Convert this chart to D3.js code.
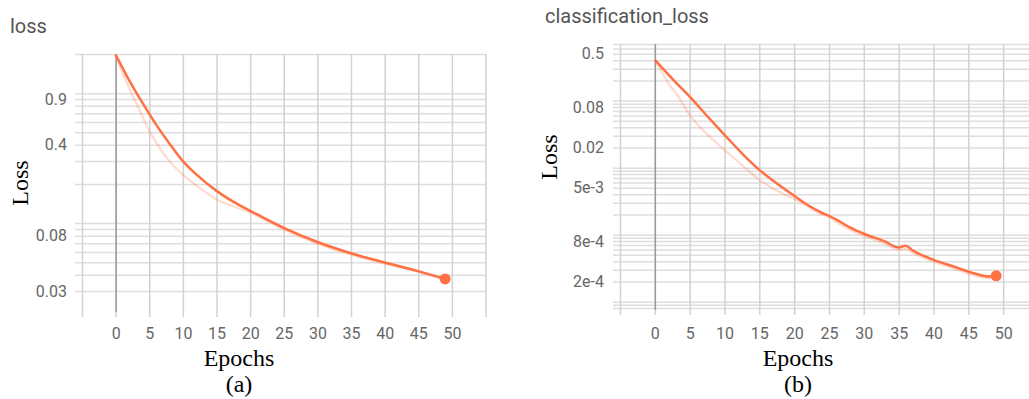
<!DOCTYPE html>
<html><head><meta charset="utf-8">
<script src="https://cdn.jsdelivr.net/npm/d3@7"></script>
<style>
html,body{margin:0;padding:0;background:#fff;}
svg{display:block;}
</style></head>
<body>
<svg id="chart" width="1029" height="399"></svg>
<script>
// ---------- data ----------
const epochTicks = [0,5,10,15,20,25,30,35,40,45,50];
const epochGrid = [-5,0,5,10,15,20,25,30,35,40,45,50,55];

const lossSmoothEpochs = [0,2,4,6,8,10,12,15,18,21,25,30,35,40,45,49];
const lossSmooth = [1.98,1.26,0.84,0.575,0.41,0.30,0.237,0.177,0.141,0.117,0.092,0.0715,0.0586,0.0498,0.0427,0.0372];
const lossRawEpochs = [0,1,2,3,4,5,6,7,8,10,12,15,18,20,25,30,35,40,45,49];
const lossRaw = [1.98,1.45,1.1,0.85,0.66,0.51,0.42,0.35,0.30,0.236,0.195,0.152,0.132,0.12,0.089,0.0695,0.0572,0.0487,0.0419,0.0366];
const lossTickVals = [0.9,0.4,0.08,0.03];
const lossTickLabels = ["0.9","0.4","0.08","0.03"];

const clsSmoothEpochs = [0,3,5,8,10,13,15,17,20,22,24,25,26,28,30,33,35,36,37,40,43,46,48,49];
const clsSmooth = [0.406,0.1875,0.115,0.0518,0.0309,0.0145,0.00927,0.00636,0.0038,0.00274,0.00211,0.00191,0.00169,0.00128,0.00103,0.000794,0.000641,0.000681,0.000583,0.000421,0.000331,0.00026,0.000237,0.000243];
const clsRawEpochs = [0,1,2,3,5,7,10,12,15,17,20,22,24,25,26,28,30,33,35,36,37,40,43,46,48,49];
const clsRaw = [0.406,0.27,0.178,0.131,0.0614,0.0354,0.0184,0.0122,0.00658,0.00483,0.00342,0.0026,0.00198,0.00185,0.00155,0.00118,0.000959,0.000729,0.000593,0.000614,0.000535,0.000393,0.000309,0.000243,0.000223,0.000243];
const clsTickVals = [0.5,0.08,0.02,0.005,0.0008,0.0002];
const clsTickLabels = ["0.5","0.08","0.02","5e-3","8e-4","2e-4"];

// ---------- drawing ----------
const svg = d3.select("#chart");
const ORANGE = "#ff7043";

function panel(cfg){
  const g = svg.append("g");
  const x = d3.scaleLinear().domain([-5,55]).range([cfg.left, cfg.right]);
  const y = d3.scaleLog().domain(cfg.yDomain).range([cfg.bottom, cfg.top]);

  // title
  g.append("text").attr("x", cfg.titleX).attr("y", cfg.titleY)
    .attr("font-family","Roboto, 'Liberation Sans', sans-serif")
    .attr("font-size", 20).attr("fill","#555").text(cfg.title);

  // horizontal grid
  const yGrid = g.append("g").attr("transform",`translate(${cfg.left-7},0)`)
    .call(d3.axisLeft(y).tickValues(y.ticks()).tickSize(-(cfg.right - cfg.left + 7)).tickFormat(""));
  yGrid.select(".domain").remove();
  yGrid.selectAll(".tick line").attr("stroke","#dedede").attr("stroke-width",1.5)
    .attr("x1", 0).attr("x2", cfg.right - cfg.left + 7);

  // vertical grid
  const xGrid = g.append("g").attr("transform",`translate(0,${cfg.bottom+5})`)
    .call(d3.axisBottom(x).tickValues(epochGrid).tickSize(-(cfg.bottom + 5 - cfg.top)).tickFormat(""));
  xGrid.select(".domain").remove();
  xGrid.selectAll("line").attr("stroke","#d2d2d2").attr("stroke-width",1.5);

  // zero axis
  const zAxis = g.append("g").attr("transform",`translate(0,${cfg.bottom})`)
    .call(d3.axisBottom(x).tickValues([0]).tickSize(-(cfg.bottom - cfg.top)).tickFormat(""));
  zAxis.select(".domain").remove();
  zAxis.selectAll("line").attr("stroke","#9a9a9a").attr("stroke-width",1.5);

  // y labels
  const yLab = g.append("g").attr("transform",`translate(${cfg.labelRight},0)`)
    .call(d3.axisLeft(y).tickValues(cfg.tickVals).tickSize(0).tickPadding(0)
      .tickFormat((d,i)=>cfg.tickLabels[i]));
  yLab.select(".domain").remove();
  yLab.selectAll("text").attr("font-family","Roboto, 'Liberation Sans', sans-serif")
    .attr("font-size",16).attr("fill","#666");

  // x labels
  const xLab = g.append("g").attr("transform",`translate(0,${cfg.xLabelY})`)
    .call(d3.axisBottom(x).tickValues(epochTicks).tickSize(0).tickPadding(0));
  xLab.select(".domain").remove();
  xLab.selectAll("text").attr("font-family","Roboto, 'Liberation Sans', sans-serif")
    .attr("font-size",16).attr("fill","#666").attr("dy","0.35em");

  // lines
  const line = d3.line().x(d=>x(d[0])).y(d=>y(d[1])).curve(d3.curveMonotoneX);
  const raw = cfg.rawE.map((e,i)=>[e, cfg.rawV[i]]);
  const sm = cfg.smE.map((e,i)=>[e, cfg.smV[i]]);
  g.append("path").datum(raw).attr("d", line).attr("fill","none")
    .attr("stroke", ORANGE).attr("stroke-opacity",0.25).attr("stroke-width",2.2);
  g.append("path").datum(sm).attr("d", line).attr("fill","none")
    .attr("stroke", ORANGE).attr("stroke-width",2.5);
  const last = sm[sm.length-1];
  g.append("circle").attr("cx", x(last[0])).attr("cy", y(last[1])).attr("r",5.5).attr("fill", ORANGE);

  // axis titles
  g.append("text").attr("transform",`translate(${cfg.lossX},${cfg.lossY}) rotate(-90)`)
    .attr("text-anchor","middle").attr("font-family","'Liberation Serif', 'Times New Roman', serif")
    .attr("font-size",24).attr("fill","#000").text("Loss");
  g.append("text").attr("x", cfg.epochsX).attr("y", 366).attr("text-anchor","middle")
    .attr("font-family","'Liberation Serif', 'Times New Roman', serif")
    .attr("font-size",24).attr("fill","#000").text("Epochs");
  g.append("text").attr("x", cfg.epochsX).attr("y", 392).attr("text-anchor","middle")
    .attr("font-family","'Liberation Serif', 'Times New Roman', serif")
    .attr("font-size",24).attr("fill","#000").text(cfg.sub);
}

panel({
  title:"loss", titleX:10, titleY:33,
  left:82, right:485.5, top:54, bottom:312,
  yDomain:[0.0207, 2],
  tickVals:lossTickVals, tickLabels:lossTickLabels, labelRight:67,
  xLabelY:333,
  smE:lossSmoothEpochs, smV:lossSmooth, rawE:lossRawEpochs, rawV:lossRaw,
  lossX:28, lossY:183, epochsX:239, sub:"(a)"
});
panel({
  title:"classification_loss", titleX:545, titleY:23,
  left:620, right:1038, top:44, bottom:310,
  yDomain:[0.000075, 0.7],
  tickVals:clsTickVals, tickLabels:clsTickLabels, labelRight:604,
  xLabelY:333,
  smE:clsSmoothEpochs, smV:clsSmooth, rawE:clsRawEpochs, rawV:clsRaw,
  lossX:557, lossY:157, epochsX:798, sub:"(b)"
});
</script>
</body></html>
